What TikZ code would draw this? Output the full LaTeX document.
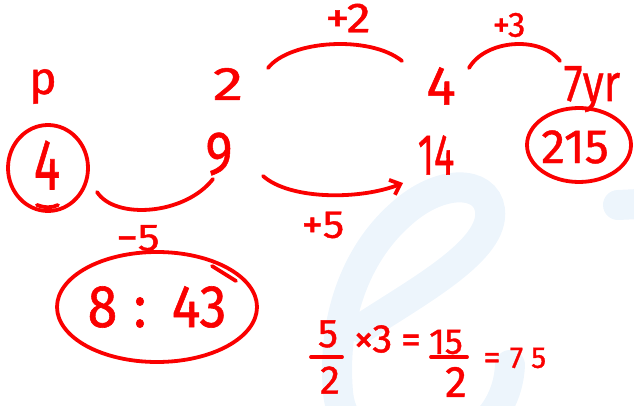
\documentclass[tikz,border=0pt]{standalone}
\usepackage{fontspec}
\setmainfont{Fira Sans}[FakeBold=1.0]
\usepackage{graphicx}
\usetikzlibrary{arrows.meta}
\definecolor{ink}{RGB}{250,0,0}
\definecolor{wm}{RGB}{237,245,252}
\newcommand{\fs}[1]{\fontsize{#1}{#1}\selectfont}
\tikzset{
  hw/.style={text=ink, inner sep=0pt},
  pen/.style={draw=ink, line width=3.8pt, line cap=round, line join=round},
  wmark/.style={draw=wm, line width=30pt, line cap=round},
  arrowpen/.style={pen, -{Straight Barb[length=9pt, width=16pt]}},
}
\begin{document}
\begin{tikzpicture}[x=1pt,y=-1pt]
\useasboundingbox (0,0) rectangle (634,406);
% faint watermark
\begin{scope}
\clip (0,0) rectangle (634,406);
\draw[wmark] (362,328) .. controls (420,290) and (495,250) .. (490,210)
  .. controls (486,180) and (440,178) .. (400,215)
  .. controls (355,255) and (332,320) .. (338,392)
  .. controls (345,480) and (505,470) .. (510,365);
\draw[wmark] (618,205) -- (660,203);
\end{scope}
% top row
\node[hw, anchor=base, font=\fs{46}] (p) at (43,94) {p};
\node[hw, font=\fs{47}] (t2) at (228,84) {\scalebox{1.3}[1]{2}};
\node[hw, font=\fs{55}] (t4) at (441,86) {4};
\node[hw, anchor=base, font=\fs{52}] (t7) at (592,101) {\scalebox{0.82}[1]{7yr}};
% second row
\node[hw, font=\fs{72}] (b4) at (47,165) {\scalebox{0.68}[1]{4}};
\node[hw, font=\fs{61}] (b9) at (219,154) {\scalebox{0.85}[1]{9}};
\node[hw, font=\fs{58}] (b14) at (436,155) {\scalebox{0.65}[1]{14}};
\node[hw, font=\fs{48}] (b215) at (575,147) {215};
% circles
\draw[pen] (48,168) ellipse [x radius=40pt, y radius=43pt];
\draw[pen] (37,205) .. controls (45,208) and (52,208) .. (58,205);
\draw[pen] (579,145) ellipse [x radius=52pt, y radius=37pt];
% arc labels
\node[hw, font=\fs{42}] (l2) at (348,18) {\scalebox{1.15}[1]{+2}};
\node[hw, font=\fs{35}] (l3) at (509,25) {+3};
\node[hw, font=\fs{38}] (lm5) at (138,238) {\scalebox{1.15}[1]{−5}};
\node[hw, font=\fs{39}] (l5) at (323,225) {\scalebox{1.1}[1]{+5}};
% arcs
\coordinate (a1s) at (268,68);  \coordinate (a1e) at (402,61);
\coordinate (a2s) at (469,68);  \coordinate (a2e) at (560,61);
\coordinate (a3s) at (97,192);  \coordinate (a3e) at (213,179);
\coordinate (a4s) at (263,176); \coordinate (a4e) at (403,183);
\draw[pen] (a1s) .. controls (290,40) and (370,35) .. (a1e);
\draw[pen] (a2s) .. controls (485,40) and (540,35) .. (a2e);
\draw[pen] (a3s) .. controls (115,220) and (185,215) .. (a3e);
\draw[arrowpen] (a4s) .. controls (290,200) and (360,200) .. (a4e);
% ratio
\node[hw, font=\fs{60}] (ratio) at (157,307) {\scalebox{0.9}[1]{8\hspace{18pt}:\hspace{28pt}43}};
\draw[pen] (157,307) ellipse [x radius=100pt, y radius=55pt];
\draw[pen] (212,266) -- (236,281);
% calculation
\node[hw, font=\fs{40}] (f1n) at (328,334) {5};
\node[hw, font=\fs{40}] (f1d) at (330,380) {2};
\coordinate (b1s) at (311,357); \coordinate (b1e) at (342,357);
\draw[pen] (b1s) -- (b1e);
\node[hw, font=\fs{40}] (times) at (373,339) {×3};
\node[hw, font=\fs{40}] (eq1) at (411,344) {=};
\node[hw, font=\fs{36}] (f2n) at (446,342) {15};
\coordinate (b2s) at (431,357); \coordinate (b2e) at (467,357);
\draw[pen] (b2s) -- (b2e);
\node[hw, font=\fs{44}] (f2d) at (456,382) {2};
\node[hw, font=\fs{34}] (eq2) at (492,361) {=};
\node[hw, font=\fs{30}] (res) at (528,358) {7\hspace{8pt}5};
\end{tikzpicture}
\end{document}
